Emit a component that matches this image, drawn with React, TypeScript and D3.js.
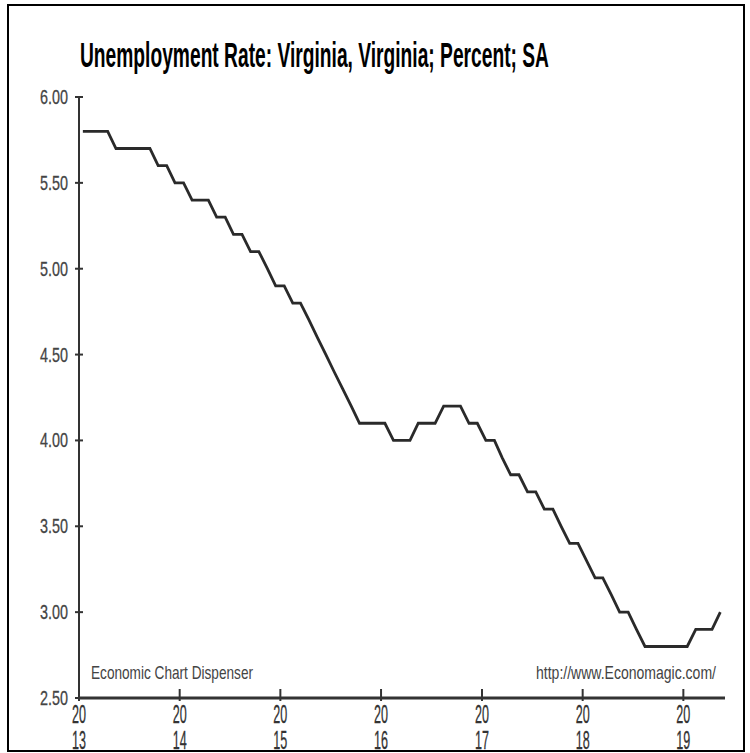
import React from "react";
import * as d3 from "d3";

const title = "Unemployment Rate: Virginia, Virginia; Percent; SA";
const startYear = 2013;
// Monthly values Jan 2013 .. May 2019
const rates: number[] = [
  5.8, 5.8, 5.8, 5.8, 5.7, 5.7, 5.7, 5.7, 5.7, 5.6, 5.6, 5.5,
  5.5, 5.4, 5.4, 5.4, 5.3, 5.3, 5.2, 5.2, 5.1, 5.1, 5.0, 4.9,
  4.9, 4.8, 4.8, 4.7, 4.6, 4.5, 4.4, 4.3, 4.2, 4.1, 4.1, 4.1,
  4.1, 4.0, 4.0, 4.0, 4.1, 4.1, 4.1, 4.2, 4.2, 4.2, 4.1, 4.1,
  4.0, 4.0, 3.9, 3.8, 3.8, 3.7, 3.7, 3.6, 3.6, 3.5, 3.4, 3.4,
  3.3, 3.2, 3.2, 3.1, 3.0, 3.0, 2.9, 2.8, 2.8, 2.8, 2.8, 2.8,
  2.8, 2.9, 2.9, 2.9, 3.0,
];
const yTicks = [2.5, 3.0, 3.5, 4.0, 4.5, 5.0, 5.5, 6.0];
const yearTicks = [2013, 2014, 2015, 2016, 2017, 2018, 2019];
const leftNote = "Economic Chart Dispenser";
const rightNote = "http://www.Economagic.com/";

const font = "'Liberation Sans', Arial, Helvetica, sans-serif";

export default function App() {
  const x = d3
    .scaleTime()
    .domain([new Date(2013, 0, 1), new Date(2019, 5, 1)])
    .range([79, 725]);
  const y = d3.scaleLinear().domain([2.5, 6]).range([698, 97]);

  const pts = rates.map((v, i) => ({
    d: new Date(startYear, i, 15),
    v,
  }));
  const line = d3
    .line<{ d: Date; v: number }>()
    .x((p) => x(p.d))
    .y((p) => y(p.v));

  const [x0, x1] = x.range();
  const [yb, yt] = y.range();

  return (
    <svg
      width={750}
      height={753}
      style={{ position: "absolute", left: 0, top: 0, background: "#fff" }}
      fontFamily={font}
    >
      <rect x={0} y={0} width={750} height={753} fill="#fff" />
      <rect x={8} y={5} width={736} height={746} fill="none" stroke="#000" strokeWidth={2} />

      <text
        x={80}
        y={67}
        fontSize={35}
        fontWeight="bold"
        fill="#000"
        textLength={469}
        lengthAdjust="spacingAndGlyphs"
      >
        {title}
      </text>

      {/* y axis */}
      <line x1={x0} x2={x0} y1={yt} y2={yb} stroke="#333" strokeWidth={2} />
      {yTicks.map((t) => (
        <g key={t}>
          <line x1={x0 - 4} x2={x0 + 4} y1={y(t)} y2={y(t)} stroke="#333" strokeWidth={2} />
          <text
            x={40}
            y={y(t) + 7}
            fontSize={21}
            fill="#444"
            stroke="#444"
            strokeWidth={0.3}
            textLength={28}
            lengthAdjust="spacingAndGlyphs"
          >
            {d3.format(".2f")(t)}
          </text>
        </g>
      ))}

      {/* x axis */}
      <line x1={x0} x2={x1} y1={yb} y2={yb} stroke="#333" strokeWidth={3} />
      {yearTicks.map((yr) => {
        const px = x(new Date(yr, 0, 1));
        return (
          <g key={yr}>
            <line x1={px} x2={px} y1={yb - 9} y2={yb + 3} stroke="#333" strokeWidth={2} />
            <text
              x={px - 7}
              y={723}
              fontSize={25}
              fill="#333"
              stroke="#333"
              strokeWidth={0.3}
              textLength={14}
              lengthAdjust="spacingAndGlyphs"
            >
              {String(yr).slice(0, 2)}
            </text>
            <text
              x={px - 7}
              y={749}
              fontSize={25}
              fill="#333"
              stroke="#333"
              strokeWidth={0.3}
              textLength={14}
              lengthAdjust="spacingAndGlyphs"
            >
              {String(yr).slice(2)}
            </text>
          </g>
        );
      })}

      <text
        x={91}
        y={679}
        fontSize={19}
        fill="#444"
        textLength={162}
        lengthAdjust="spacingAndGlyphs"
      >
        {leftNote}
      </text>
      <text
        x={536}
        y={679}
        fontSize={19}
        fill="#444"
        textLength={180}
        lengthAdjust="spacingAndGlyphs"
      >
        {rightNote}
      </text>

      <path d={line(pts) || ""} fill="none" stroke="#2a2a2a" strokeWidth={2.8} strokeLinejoin="miter" />
    </svg>
  );
}
